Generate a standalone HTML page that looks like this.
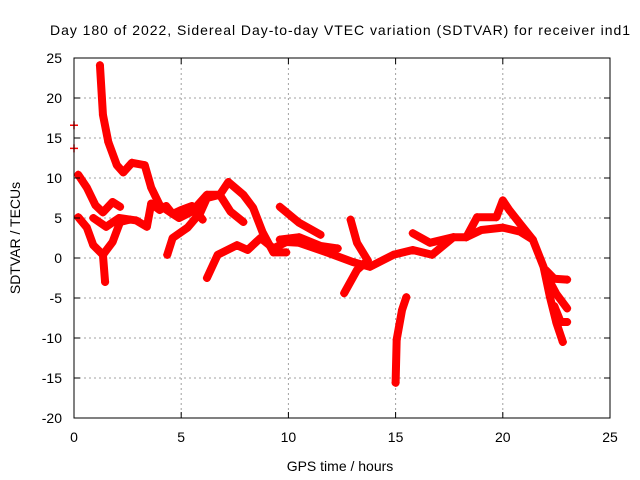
<!DOCTYPE html>
<html><head><meta charset="utf-8"><style>
body{margin:0;background:#fff}
svg{display:block;font-family:"Liberation Sans",sans-serif}
</style></head><body>
<svg id="chart" width="640" height="480">
<rect x="0" y="0" width="640" height="480" fill="#fff"/>
<g id="grid"></g>
<g id="series"></g>
<rect x="74" y="58" width="536" height="360" fill="none" stroke="#000" stroke-width="1"/>
<g id="ticks"></g>
<text x="340" y="35" text-anchor="middle" font-size="14" textLength="580">Day 180 of 2022, Sidereal Day-to-day VTEC variation (SDTVAR) for receiver ind1</text>
<text x="340" y="471" text-anchor="middle" font-size="14">GPS time / hours</text>
<text x="20" y="238" text-anchor="middle" font-size="14" transform="rotate(-90 20 238)">SDTVAR / TECUs</text>
</svg>
<script>
const xTicks=[0,5,10,15,20,25];
const yTicks=[25,20,15,10,5,0,-5,-10,-15,-20];
const tr1=[[1.21,24.1],[1.35,17.9],[1.6,14.5],[2.0,11.6],[2.3,10.7],[2.7,11.9],[3.3,11.6],[3.6,8.8],[4.0,6.6],[4.5,5.7],[4.9,5.0],[5.5,5.8],[6.2,7.9],[6.8,7.9],[7.3,5.8],[7.9,4.5]];
const tr2=[[0.2,10.4],[0.6,8.8],[1.0,6.6],[1.35,5.7],[1.8,7.0],[2.15,6.4]];
const tr3=[[0.9,5.0],[1.5,3.9],[2.1,5.0],[2.9,4.7],[3.4,3.9],[3.6,6.8],[4.0,6.0],[4.3,6.5],[4.6,5.5],[5.0,6.0],[5.5,6.5],[6.0,4.8]];
const tr4=[[0.2,5.1],[0.6,3.8],[0.9,1.6],[1.35,0.4],[1.45,-3.0]];
const tr5=[[1.35,0.4],[1.8,2.0],[2.15,4.5],[2.6,4.8]];
const tr6=[[4.35,0.4],[4.6,2.5],[5.3,3.8],[5.9,5.7],[6.2,7.5],[6.8,7.9],[7.2,9.5],[7.9,7.9],[8.35,6.3],[8.8,3.2],[9.3,0.7],[9.9,0.7]];
const tr7=[[6.2,-2.5],[6.7,0.4],[7.6,1.6],[8.1,1.0],[8.7,2.5],[9.3,1.2],[9.9,2.0],[10.5,1.9],[11.9,0.6],[13.0,-0.5],[13.8,-1.1],[14.9,0.4],[15.8,1.0],[16.7,0.4],[17.7,2.6],[18.3,2.6],[19.0,3.5],[20.0,3.8],[20.8,3.3],[21.4,2.3],[21.9,-1.1],[22.2,-4.9],[22.5,-8.1],[22.8,-10.5]];
const tr8=[[9.6,6.4],[10.5,4.4],[11.5,2.9]];
const tr9=[[9.6,2.3],[10.5,2.6],[11.5,1.5],[12.3,1.2]];
const tr10=[[12.9,4.8],[13.2,1.9],[13.7,-0.3]];
const tr11=[[12.6,-4.4],[13.2,-1.5],[13.7,-0.3]];
const tr12=[[15.0,-15.6],[15.05,-10.2],[15.3,-6.5],[15.5,-4.9]];
const tr13=[[15.8,3.1],[16.6,1.9],[17.7,2.6]];
const tr14=[[18.3,2.6],[18.8,5.1],[19.7,5.1],[20.0,7.2],[20.3,6.0],[20.8,4.3],[21.4,2.3]];
const tr15=[[22.0,-1.5],[22.4,-2.6],[23.0,-2.7]];
const tr16=[[22.0,-2.0],[22.5,-4.5],[23.0,-6.3]];
const tr17=[[22.4,-6.0],[22.7,-8.0],[23.0,-8.0]];
const tr18=[[0,16.6]];
const tr19=[[0,13.7]];
const traces=[tr1,tr2,tr3,tr4,tr5,tr6,tr7,tr8,tr9,tr10,tr11,tr12,tr13,tr14,tr15,tr16,tr17,tr18,tr19];
const NS='http://www.w3.org/2000/svg';
const X0=74,X1=610,Y0=418,Y1=58,XMIN=0,XMAX=25,YMIN=-20,YMAX=25;
function sx(v){return X0+(v-XMIN)/(XMAX-XMIN)*(X1-X0);}
function sy(v){return Y0-(v-YMIN)/(YMAX-YMIN)*(Y0-Y1);}
function mk(tag,attrs,parent){const e=document.createElementNS(NS,tag);for(const k in attrs)e.setAttribute(k,attrs[k]);parent.appendChild(e);return e;}
const grid=document.getElementById('grid'),ticks=document.getElementById('ticks'),ser=document.getElementById('series');
xTicks.forEach(t=>{
  const x=sx(t);
  if(t>XMIN&&t<XMAX){const g=mk('line',{x1:x,x2:x,y1:Y1,y2:Y0,stroke:'#a0a0a0','stroke-dasharray':'2,3'},grid);
  
  }
  mk('line',{x1:x,x2:x,y1:Y0,y2:Y0-6,stroke:'#000'},ticks);
  mk('line',{x1:x,x2:x,y1:Y1,y2:Y1+6,stroke:'#000'},ticks);
  const l=mk('text',{x:x,y:Y0+24,'text-anchor':'middle','font-size':'14'},ticks);
  l.textContent=t;
  
  
});
yTicks.forEach(t=>{
  const y=sy(t);
  if(t>YMIN&&t<YMAX){const g=mk('line',{x1:X0,x2:X1,y1:y,y2:y,stroke:'#a0a0a0','stroke-dasharray':'2,3'},grid);
  
  }
  mk('line',{x1:X0,x2:X0+6,y1:y,y2:y,stroke:'#000'},ticks);
  mk('line',{x1:X1,x2:X1-6,y1:y,y2:y,stroke:'#000'},ticks);
  const l=mk('text',{x:X0-12,y:y+5,'text-anchor':'end','font-size':'14'},ticks);
  l.textContent=t;
  
  
});
traces.forEach((tr,i)=>{
  const g=mk('g',{},ser);
  
  
  if(tr.length>1){
    mk('polyline',{points:tr.map(p=>sx(p[0])+','+sy(p[1])).join(' '),fill:'none',stroke:'#ff0000','stroke-width':'8','stroke-linejoin':'round','stroke-linecap':'round'},g);
  }
  tr.forEach(p=>{
    const x=sx(p[0]),y=sy(p[1]);
    const m=mk('path',{d:`M${x-4},${y}H${x+4}M${x},${y-4}V${y+4}`,stroke:'#ff0000','stroke-width':'1.5'},g);
    
    
  });
});
</script>
</body></html>
